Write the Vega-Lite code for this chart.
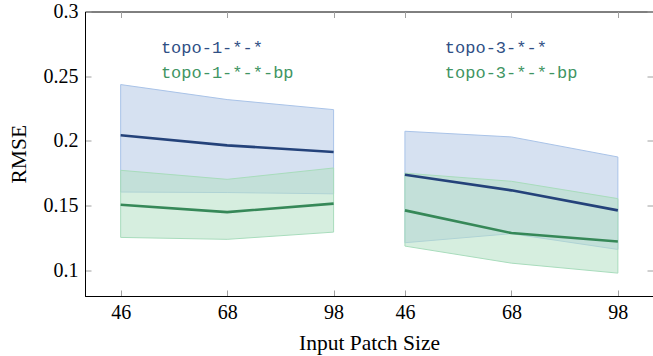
{
  "$schema": "https://vega.github.io/schema/vega-lite/v6.json",
  "width": 568,
  "height": 284.5,
  "autosize": {"type": "none"},
  "padding": {"left": 85, "top": 11.5, "right": 0, "bottom": 60},
  "background": "white",
  "config": {
    "view": {"stroke": "black", "strokeWidth": 1},
    "font": "'Liberation Serif', 'Times New Roman', serif",
    "axis": {
      "grid": false,
      "domainColor": "black",
      "domainWidth": 1,
      "tickColor": "#a0a0a0",
      "tickWidth": 1,
      "tickSize": -6,
      "labelColor": "black",
      "labelFont": "'Liberation Serif', 'Times New Roman', serif",
      "labelFontSize": 20,
      "titleFont": "'Liberation Serif', 'Times New Roman', serif",
      "titleFontSize": 21.5,
      "titleFontWeight": "normal",
      "titleColor": "black"
    }
  },
  "datasets": {
    "stats": [
      {"panel": "topo-1", "x": 1, "size": 46, "series": "base", "mean": 0.2043, "lo": 0.1604, "hi": 0.2435},
      {"panel": "topo-1", "x": 2, "size": 68, "series": "base", "mean": 0.1965, "lo": 0.1600, "hi": 0.2319},
      {"panel": "topo-1", "x": 3, "size": 98, "series": "base", "mean": 0.1913, "lo": 0.1590, "hi": 0.2241},
      {"panel": "topo-1", "x": 1, "size": 46, "series": "bp", "mean": 0.1506, "lo": 0.1253, "hi": 0.1772},
      {"panel": "topo-1", "x": 2, "size": 68, "series": "bp", "mean": 0.1449, "lo": 0.1238, "hi": 0.1702},
      {"panel": "topo-1", "x": 3, "size": 98, "series": "bp", "mean": 0.1514, "lo": 0.1294, "hi": 0.1790},
      {"panel": "topo-3", "x": 3.67, "size": 46, "series": "base", "mean": 0.1738, "lo": 0.1212, "hi": 0.2074},
      {"panel": "topo-3", "x": 4.67, "size": 68, "series": "base", "mean": 0.1617, "lo": 0.1282, "hi": 0.2030},
      {"panel": "topo-3", "x": 5.67, "size": 98, "series": "base", "mean": 0.1462, "lo": 0.1160, "hi": 0.1875},
      {"panel": "topo-3", "x": 3.67, "size": 46, "series": "bp", "mean": 0.1462, "lo": 0.1186, "hi": 0.1750},
      {"panel": "topo-3", "x": 4.67, "size": 68, "series": "bp", "mean": 0.1287, "lo": 0.1054, "hi": 0.1687},
      {"panel": "topo-3", "x": 5.67, "size": 98, "series": "bp", "mean": 0.1222, "lo": 0.0977, "hi": 0.1553}
    ],
    "labels": [
      {"text": "topo-1-*-*", "x": 1.378, "y": 0.272, "series": "base"},
      {"text": "topo-1-*-*-bp", "x": 1.378, "y": 0.2525, "series": "bp"},
      {"text": "topo-3-*-*", "x": 4.045, "y": 0.272, "series": "base"},
      {"text": "topo-3-*-*-bp", "x": 4.045, "y": 0.2525, "series": "bp"}
    ]
  },
  "layer": [
    {
      "data": {"name": "stats"},
      "transform": [{"filter": "datum.series === 'base'"}],
      "mark": {"type": "area", "color": "#b4c8e6", "fillOpacity": 0.55, "stroke": "#a9c3e8", "strokeWidth": 1, "interpolate": "linear"},
      "encoding": {
        "x": {"field": "x", "type": "quantitative", "scale": {"domain": [0.665, 6.0], "nice": false, "zero": false},
          "axis": {"orient": "bottom", "values": [1, 2, 3, 3.67, 4.67, 5.67], "labelExpr": "['46','68','98'][round(datum.value - 1) % 3]", "labelPadding": 12, "title": "Input Patch Size", "titlePadding": 10}},
        "y": {"field": "lo", "type": "quantitative", "scale": {"domain": [0.08, 0.3], "nice": false, "zero": false},
          "axis": {"orient": "left", "values": [0.1, 0.15, 0.2, 0.25, 0.3], "format": ".2~f", "labelPadding": 13, "title": "RMSE", "titlePadding": 13}},
        "y2": {"field": "hi"},
        "detail": {"field": "panel"}
      }
    },
    {
      "data": {"name": "stats"},
      "transform": [{"filter": "datum.series === 'bp'"}],
      "mark": {"type": "area", "color": "#b4e0c5", "fillOpacity": 0.55, "stroke": "#a8dcbc", "strokeWidth": 1, "interpolate": "linear"},
      "encoding": {
        "x": {"field": "x", "type": "quantitative", "scale": {"domain": [0.665, 6.0], "nice": false, "zero": false},
          "axis": {"orient": "top", "values": [1, 2, 3, 3.67, 4.67, 5.67], "labels": false, "domain": false, "title": null}},
        "y": {"field": "lo", "type": "quantitative", "scale": {"domain": [0.08, 0.3], "nice": false, "zero": false},
          "axis": {"orient": "right", "values": [0.1, 0.15, 0.2, 0.25, 0.3], "labels": false, "domain": false, "title": null}},
        "y2": {"field": "hi"},
        "detail": {"field": "panel"}
      }
    },
    {
      "data": {"name": "stats"},
      "transform": [{"filter": "datum.series === 'base'"}],
      "mark": {"type": "line", "color": "#24427a", "strokeWidth": 2.6},
      "encoding": {
        "x": {"field": "x", "type": "quantitative", "scale": {"domain": [0.665, 6.0], "nice": false, "zero": false}, "axis": null},
        "y": {"field": "mean", "type": "quantitative", "scale": {"domain": [0.08, 0.3], "nice": false, "zero": false}, "axis": null},
        "detail": {"field": "panel"}
      }
    },
    {
      "data": {"name": "stats"},
      "transform": [{"filter": "datum.series === 'bp'"}],
      "mark": {"type": "line", "color": "#368858", "strokeWidth": 2.6},
      "encoding": {
        "x": {"field": "x", "type": "quantitative", "scale": {"domain": [0.665, 6.0], "nice": false, "zero": false}, "axis": null},
        "y": {"field": "mean", "type": "quantitative", "scale": {"domain": [0.08, 0.3], "nice": false, "zero": false}, "axis": null},
        "detail": {"field": "panel"}
      }
    },
    {
      "data": {"name": "labels"},
      "mark": {"type": "text", "align": "left", "baseline": "middle", "font": "'Liberation Mono', 'Courier New', monospace", "fontSize": 17},
      "encoding": {
        "x": {"field": "x", "type": "quantitative", "scale": {"domain": [0.665, 6.0], "nice": false, "zero": false}, "axis": null},
        "y": {"field": "y", "type": "quantitative", "scale": {"domain": [0.08, 0.3], "nice": false, "zero": false}, "axis": null},
        "text": {"field": "text"},
        "color": {"field": "series", "type": "nominal", "scale": {"domain": ["base", "bp"], "range": ["#2f4f85", "#3f9563"]}, "legend": null}
      }
    }
  ],
  "resolve": {"axis": {"x": "independent", "y": "independent"}}
}
